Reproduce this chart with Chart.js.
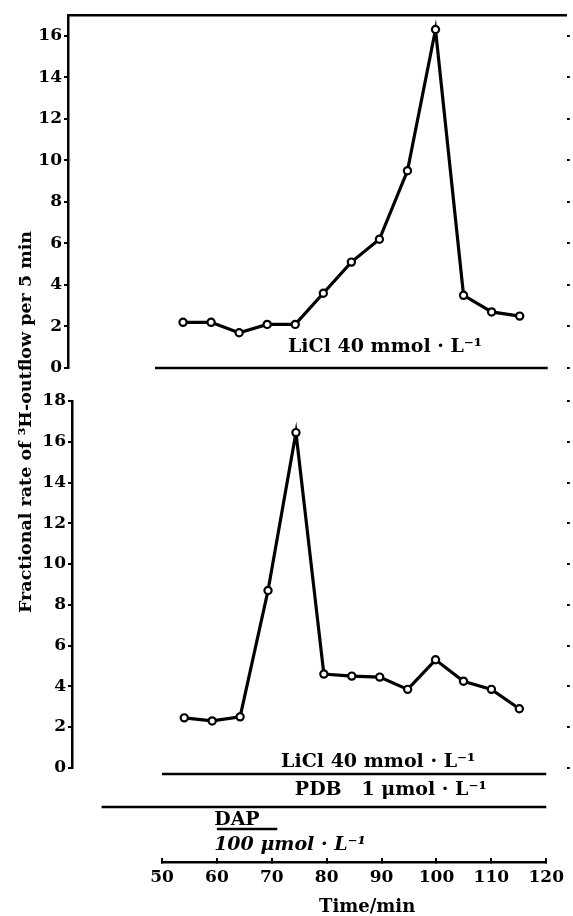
<!DOCTYPE html>
<html>
<head>
<meta charset="utf-8">
<script src="https://cdn.jsdelivr.net/npm/chart.js@4.4.1/dist/chart.umd.min.js"></script>
<style>
  html, body { margin: 0; padding: 0; background: #fff; }
  #wrap { position: relative; width: 573px; height: 916px; overflow: hidden; background: #fff; }
  #wrap canvas { position: absolute; left: 0; }
  #ytitle {
    position: absolute; left: 25px; top: 422px;
    transform: translate(-50%, -50%) rotate(-90deg);
    white-space: nowrap; color: #000;
    font: bold 17.5px "DejaVu Serif", serif;
  }
</style>
</head>
<body>
<div id="wrap">
  <canvas id="topChart" style="top:0px;width:573px;height:390px"></canvas>
  <canvas id="bottomChart" style="top:380px;width:573px;height:400px"></canvas>
  <canvas id="axisChart" style="top:740px;width:573px;height:176px"></canvas>
  <div id="ytitle">Fractional rate of ³H-outflow per 5 min</div>
</div>
<script>
// sampling times, min
const times = [55, 60, 65, 70, 75, 80, 85, 90, 95, 100, 105, 110, 115];
// upper panel: LiCl alone
const liclOnly = [2.2, 2.2, 1.7, 2.1, 2.1, 3.6, 5.1, 6.2, 9.5, 16.3, 3.5, 2.7, 2.5];
// lower panel: PDB + LiCl, with DAP pulse
const liclPdbDap = [2.45, 2.3, 2.5, 8.7, 16.45, 4.6, 4.5, 4.45, 3.85, 5.3, 4.25, 3.85, 2.9];

const topTicks = [0, 2, 4, 6, 8, 10, 12, 14, 16];
const bottomTicks = [0, 2, 4, 6, 8, 10, 12, 14, 16, 18];
const timeTicks = [50, 60, 70, 80, 90, 100, 110, 120];

// drug application periods (min)
const liclPeriod = [50, 120];
const pdbPeriod = [39, 120];
const dapPeriod = [60, 71];

const FONT = '"DejaVu Serif", serif';

// horizontal bars and their labels, placed on the x scale of the chart
const treatments = {
  id: 'treatments',
  afterDraw(chart, args, opts) {
    const ctx = chart.ctx;
    const x = chart.scales.x;
    const base = chart.chartArea.bottom;
    ctx.save();
    ctx.strokeStyle = '#000';
    ctx.fillStyle = '#000';
    ctx.lineCap = 'butt';
    (opts.items || []).forEach(it => {
      if (it.period) {
        ctx.lineWidth = 2.5;
        ctx.beginPath();
        ctx.moveTo(x.getPixelForValue(it.period[0]), base + it.dy);
        ctx.lineTo(x.getPixelForValue(it.period[1]), base + it.dy);
        ctx.stroke();
      }
      if (it.text) {
        ctx.font = it.font;
        ctx.textAlign = 'left';
        ctx.textBaseline = 'middle';
        ctx.fillText(it.text, x.getPixelForValue(it.textAt), base + it.textDy);
      }
    });
    ctx.restore();
  }
};

function fixTicks(list) {
  return scale => { scale.ticks = list.map(v => ({ value: v })); };
}

function panel(id, data, yMax, ticks, xMin, xMax, leftW, topH, pad, items) {
  return new Chart(document.getElementById(id), {
    type: 'line',
    data: {
      datasets: [{
        data: times.map((t, i) => ({ x: t, y: data[i] })),
        borderColor: '#000',
        borderWidth: 3.2,
        pointRadius: 3.6,
        pointBorderWidth: 2.2,
        pointBackgroundColor: '#fff',
        pointBorderColor: '#000',
        tension: 0,
        clip: false
      }]
    },
    options: {
      responsive: false,
      animation: false,
      layout: { padding: pad },
      plugins: { legend: { display: false }, tooltip: { enabled: false }, treatments: { items } },
      scales: {
        x: { type: 'linear', min: xMin, max: xMax, display: false },
        xTop: {
          type: 'linear', position: 'top', display: topH > 0,
          ticks: { display: false },
          grid: { display: false, drawTicks: false },
          border: { display: true, color: '#000', width: 2.5 },
          afterFit: s => { s.height = topH; }
        },
        y: {
          min: 0, max: yMax,
          afterBuildTicks: fixTicks(ticks),
          afterFit: s => { s.width = leftW; },
          ticks: { color: '#000', font: { family: FONT, size: 17, weight: 'bold' }, padding: 2 },
          grid: { drawOnChartArea: false, drawTicks: true, tickLength: 4, color: '#000', lineWidth: 2 },
          border: { display: true, color: '#000', width: 2.5 }
        },
        yRight: {
          position: 'right', min: 0, max: yMax,
          afterBuildTicks: fixTicks(ticks),
          afterFit: s => { s.width = 573 - 570; },
          ticks: { display: false },
          grid: { drawOnChartArea: false, drawTicks: true, tickLength: 3, color: '#000', lineWidth: 2 },
          border: { display: false }
        }
      }
    },
    plugins: [treatments]
  });
}

// upper panel
panel('topChart', liclOnly, 17, topTicks, 34.5, 123.4, 68, 15,
  { top: 0, bottom: 22, left: 0, right: 0 },
  [{ period: liclPeriod, dy: 0, text: 'LiCl 40 mmol · L⁻¹', textAt: 73.7, textDy: -21, font: 'bold 19px ' + FONT }]);

// lower panel
panel('bottomChart', liclPdbDap, 18, bottomTicks, 34.9, 123.5, 72, 0,
  { top: 21, bottom: 4, left: 0, right: 0 }, []);

// shared time axis with the drug bars
new Chart(document.getElementById('axisChart'), {
  type: 'scatter',
  data: { datasets: [] },
  options: {
    responsive: false,
    animation: false,
    layout: { padding: { left: 162, right: 20, top: 0, bottom: 0 } },
    plugins: {
      legend: { display: false }, tooltip: { enabled: false },
      treatments: { items: [
        { period: liclPeriod, dy: -88, text: 'LiCl 40 mmol · L⁻¹', textAt: 71.7, textDy: -100, font: 'bold 19px ' + FONT },
        { period: pdbPeriod, dy: -55, text: 'PDB   1 μmol · L⁻¹', textAt: 74.2, textDy: -72, font: 'bold 19px ' + FONT },
        { period: dapPeriod, dy: -33, text: 'DAP', textAt: 59.5, textDy: -42, font: 'bold 19px ' + FONT },
        { text: '100 μmol · L⁻¹', textAt: 59.5, textDy: -17, font: 'italic bold 19px ' + FONT },
        // axis title, sits a little right of the axis centre as in the original
        { text: 'Time/min', textAt: 78.6, textDy: 45, font: 'bold 18px ' + FONT }
      ] }
    },
    scales: {
      x: {
        type: 'linear', min: 50, max: 120,
        afterBuildTicks: fixTicks(timeTicks),
        afterFit: s => { s.height = 54; },
        ticks: { color: '#000', font: { family: FONT, size: 17, weight: 'bold' }, padding: 9, autoSkip: false, maxRotation: 0 },
        grid: { drawOnChartArea: false, drawTicks: true, tickLength: -4, color: '#000', lineWidth: 2 },
        border: { display: true, color: '#000', width: 2.5 }
      },
      y: { display: false, min: 0, max: 1 }
    }
  },
  plugins: [treatments]
});
</script>
</body>
</html>
